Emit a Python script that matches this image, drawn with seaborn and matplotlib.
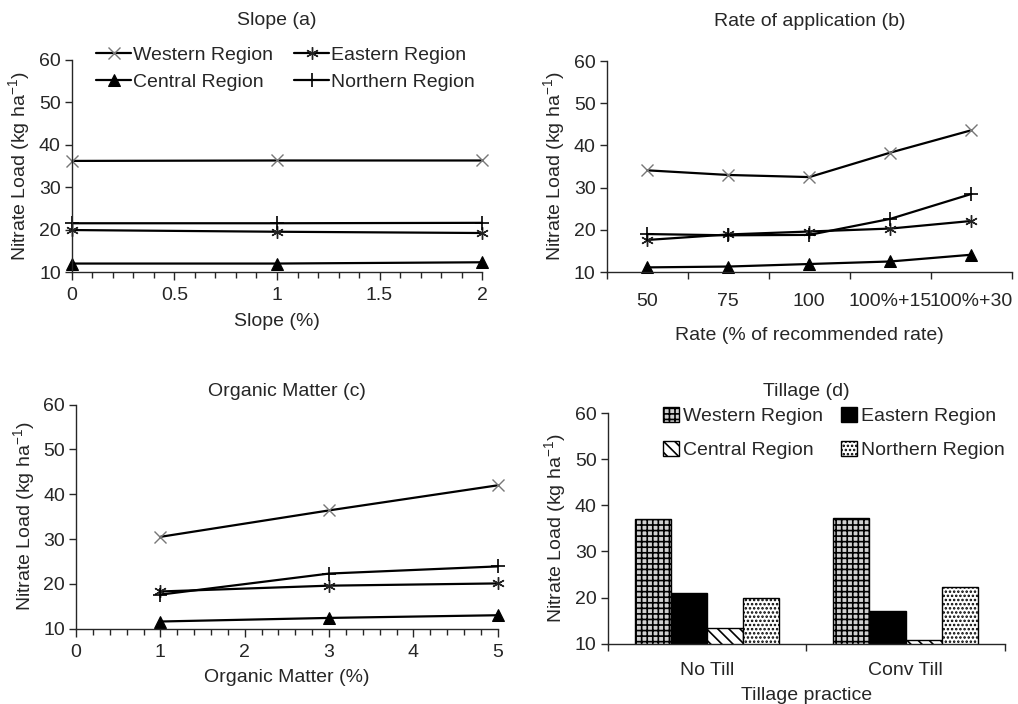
import matplotlib
matplotlib.use("Agg")
import matplotlib.pyplot as plt
import matplotlib.ticker as mticker
import pandas as pd
import seaborn as sns

# Data
regions = ["Western Region", "Eastern Region", "Central Region", "Northern Region"]

slope_x = [0, 1, 2]
slope_western = [36.2, 36.3, 36.3]
slope_eastern = [19.9, 19.5, 19.2]
slope_central = [12.0, 12.0, 12.3]
slope_northern = [21.5, 21.5, 21.6]

rate_x = ["50", "75", "100", "100%+15", "100%+30"]
rate_western = [34.1, 33.0, 32.5, 38.3, 43.6]
rate_eastern = [17.6, 18.9, 19.6, 20.3, 22.1]
rate_central = [11.1, 11.3, 11.9, 12.5, 14.1]
rate_northern = [19.0, 18.7, 18.8, 22.6, 28.5]

om_x = [1, 3, 5]
om_western = [30.5, 36.4, 42.0]
om_eastern = [18.3, 19.6, 20.1]
om_central = [11.6, 12.4, 13.0]
om_northern = [17.6, 22.3, 23.9]

tillage_x = ["No Till", "Conv Till"]
till_western = [37.0, 37.2]
till_eastern = [21.0, 17.0]
till_central = [13.5, 10.7]
till_northern = [20.0, 22.2]

sns.set_style("ticks")
plt.rcParams["font.family"] = ["Liberation Sans", "DejaVu Sans"]
plt.rcParams["font.size"] = 14
plt.rcParams["axes.linewidth"] = 1.0
plt.rcParams["xtick.labelsize"] = 14
plt.rcParams["ytick.labelsize"] = 14
plt.rcParams["hatch.linewidth"] = 1.2

ylab = "Nitrate Load (kg ha$^{\\mathregular{-1}}$)"

styles = {
    "Western Region": dict(marker="x", markersize=8, markeredgecolor="#777777", markeredgewidth=1.0),
    "Eastern Region": dict(marker=(6, 2, 0), markersize=9, markeredgecolor="#222222", markeredgewidth=1.0),
    "Central Region": dict(marker="^", markersize=8, markeredgecolor="black", markerfacecolor="black"),
    "Northern Region": dict(marker="+", markersize=10, markeredgecolor="black", markeredgewidth=1.2),
}


def line_panel(ax, x, series):
    for name, vals in zip(regions, series):
        sns.lineplot(x=x, y=vals, ax=ax, color="black", linewidth=1.6,
                     label=name, sort=False, clip_on=False, **styles[name])
    ax.set_ylim(10, 60)
    ax.set_yticks([10, 20, 30, 40, 50, 60])
    ax.set_ylabel(ylab, labelpad=4)
    ax.tick_params(axis="y", length=5, width=1, pad=3)
    sns.despine(ax=ax)


fig = plt.figure(figsize=(10.18, 7.04), dpi=100)
ax_a = fig.add_axes([0.0707, 0.6136, 0.4028, 0.3012])
ax_b = fig.add_axes([0.596, 0.6136, 0.398, 0.2997])
ax_c = fig.add_axes([0.0747, 0.107, 0.4143, 0.3182])
ax_d = fig.add_axes([0.597, 0.0857, 0.390, 0.3276])

# (a) Slope
line_panel(ax_a, slope_x, [slope_western, slope_eastern, slope_central, slope_northern])
ax_a.set_xlim(0, 2)
ax_a.xaxis.set_major_locator(mticker.MultipleLocator(0.5))
ax_a.xaxis.set_minor_locator(mticker.MultipleLocator(0.1))
ax_a.xaxis.set_major_formatter(mticker.FuncFormatter(lambda v, p: f"{v:g}"))
ax_a.tick_params(axis="x", which="major", length=6, width=1, pad=5)
ax_a.tick_params(axis="x", which="minor", length=4, width=1)
ax_a.set_xlabel("Slope (%)", labelpad=6)
ax_a.set_title("Slope (a)", fontsize=14, pad=25)
h, l = ax_a.get_legend_handles_labels()
order = [0, 2, 1, 3]
ax_a.legend([h[i] for i in order], [l[i] for i in order], ncol=2, frameon=False,
            loc="upper left", bbox_to_anchor=(0.04, 1.10), borderaxespad=0,
            handlelength=1.8, handletextpad=0.1, columnspacing=1.1, labelspacing=0.45,
            fontsize=14)

# (b) Rate of application
line_panel(ax_b, rate_x, [rate_western, rate_eastern, rate_central, rate_northern])
ax_b.set_xlim(-0.5, len(rate_x) - 0.5)
ax_b.set_xticks([i - 0.5 for i in range(len(rate_x) + 1)])
ax_b.set_xticklabels([])
ax_b.set_xticks(range(len(rate_x)), minor=True)
ax_b.set_xticklabels(rate_x, minor=True)
ax_b.tick_params(axis="x", which="major", length=5, width=1)
ax_b.tick_params(axis="x", which="minor", length=0, pad=15)
ax_b.set_xlabel("Rate (% of recommended rate)", labelpad=12)
ax_b.set_title("Rate of application (b)", fontsize=14, pad=25)
ax_b.get_legend().remove()

# (c) Organic matter
line_panel(ax_c, om_x, [om_western, om_eastern, om_central, om_northern])
ax_c.set_xlim(0, 5)
ax_c.xaxis.set_major_locator(mticker.MultipleLocator(1))
ax_c.xaxis.set_minor_locator(mticker.MultipleLocator(0.2))
ax_c.tick_params(axis="x", which="major", length=6, width=1, pad=5)
ax_c.tick_params(axis="x", which="minor", length=4, width=1)
ax_c.set_xlabel("Organic Matter (%)", labelpad=6)
ax_c.set_title("Organic Matter (c)", fontsize=14, pad=6)
ax_c.get_legend().remove()

# (d) Tillage bars
till_df = pd.DataFrame({
    "tillage": tillage_x * 4,
    "region": [r for r in regions for _ in tillage_x],
    "load": till_western + till_eastern + till_central + till_northern,
})
sns.barplot(data=till_df, x="tillage", y="load", hue="region", hue_order=regions,
            width=0.73, ax=ax_d, edgecolor="black", linewidth=1.0, errorbar=None,
            palette=["white", "black", "white", "white"], saturation=1)
hatches = ["+++", "", "\\\\\\", "...."]
faces = ["#d0d0d0", "black", "white", "white"]
for cont, hatch, fc in zip(ax_d.containers, hatches, faces):
    for bar in cont:
        bar.set_hatch(hatch)
        bar.set_facecolor(fc)
ax_d.set_ylim(10, 60)
ax_d.set_yticks([10, 20, 30, 40, 50, 60])
ax_d.set_xlim(-0.5, 1.5)
ax_d.set_xticks([-0.5, 0.5, 1.5])
ax_d.set_xticklabels([])
ax_d.set_xticks([0, 1], minor=True)
ax_d.set_xticklabels(tillage_x, minor=True)
ax_d.tick_params(axis="x", which="major", length=5, width=1)
ax_d.tick_params(axis="x", which="minor", length=0, pad=13)
ax_d.tick_params(axis="y", length=5, width=1, pad=3)
ax_d.set_ylabel(ylab, labelpad=4)
ax_d.set_xlabel("Tillage practice", labelpad=6)
ax_d.set_title("Tillage (d)", fontsize=14, pad=12)
sns.despine(ax=ax_d)
h, l = ax_d.get_legend_handles_labels()
for hd, hatch, fc in zip(h, hatches, faces):
    hd.set_hatch(hatch)
    hd.set_facecolor(fc)
ax_d.legend([h[i] for i in order], [l[i] for i in order], ncol=2, frameon=False,
            loc="upper left", bbox_to_anchor=(0.12, 1.06), borderaxespad=0,
            handlelength=0.8, handleheight=0.8, handletextpad=0.2,
            columnspacing=0.95, labelspacing=0.8, fontsize=14)

fig.savefig("out.png", dpi=100)
